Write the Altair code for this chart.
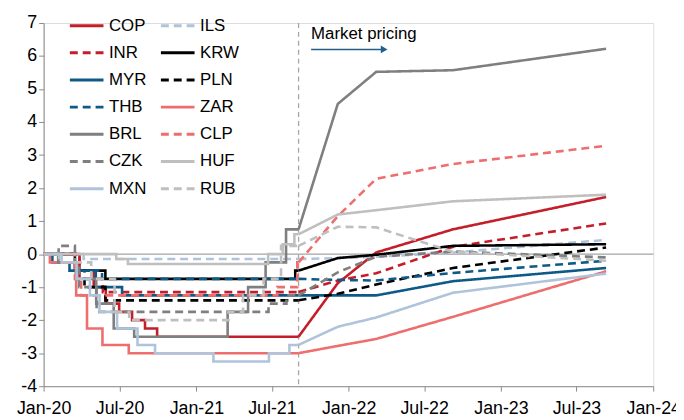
import altair as alt
import pandas as pd

# ---------------- data ----------------
# forward (market pricing) dates; first is the spot date (dashed line)
FWD_DATES = ["2021-09-03", "2021-12-06", "2022-03-08", "2022-09-08", "2023-09-10"]

# cumulative policy-rate change since Jan-20 (pp), step changes
COP_STEPS = [("2020-01-01", 0.0), ("2020-03-27", -0.5), ("2020-04-30", -1.0), ("2020-05-29", -1.5),
             ("2020-06-30", -1.75), ("2020-07-31", -2.0), ("2020-08-31", -2.25), ("2020-09-29", -2.5)]
INR_STEPS = [("2020-01-01", 0.0), ("2020-03-27", -0.75), ("2020-05-22", -1.15)]
MYR_STEPS = [("2020-01-01", 0.0), ("2020-01-22", -0.25), ("2020-03-03", -0.5), ("2020-05-05", -1.0),
             ("2020-07-07", -1.25)]
THB_STEPS = [("2020-01-01", 0.0), ("2020-02-05", -0.25), ("2020-03-20", -0.5), ("2020-05-20", -0.75)]
BRL_STEPS = [("2020-01-01", 0.0), ("2020-02-05", -0.25), ("2020-03-18", -0.75), ("2020-05-06", -1.5),
             ("2020-06-17", -2.25), ("2020-08-05", -2.5), ("2021-03-17", -1.75), ("2021-05-05", -1.0),
             ("2021-06-16", -0.25), ("2021-08-04", 0.75)]
CZK_STEPS = [("2020-01-01", 0.0), ("2020-02-06", 0.25), ("2020-03-16", -0.25), ("2020-03-26", -1.0),
             ("2020-05-07", -1.75), ("2021-06-23", -1.5), ("2021-08-05", -1.25)]
MXN_STEPS = [("2020-01-01", 0.0), ("2020-02-13", -0.25), ("2020-03-20", -0.75), ("2020-04-21", -1.25),
             ("2020-05-14", -1.75), ("2020-06-25", -2.25), ("2020-08-13", -2.75), ("2020-09-24", -3.0),
             ("2021-02-11", -3.25), ("2021-06-24", -3.0), ("2021-08-12", -2.75)]
ILS_STEPS = [("2020-01-01", 0.0), ("2020-04-06", -0.15)]
KRW_STEPS = [("2020-01-01", 0.0), ("2020-03-16", -0.5), ("2020-05-28", -0.75), ("2021-08-26", -0.5)]
PLN_STEPS = [("2020-01-01", 0.0), ("2020-03-17", -0.5), ("2020-04-08", -1.0), ("2020-05-28", -1.4)]
ZAR_STEPS = [("2020-01-01", 0.0), ("2020-01-16", -0.25), ("2020-03-19", -1.25), ("2020-04-14", -2.25),
             ("2020-05-21", -2.75), ("2020-07-23", -3.0)]
CLP_STEPS = [("2020-01-01", 0.0), ("2020-03-16", -0.75), ("2020-03-31", -1.25), ("2021-07-14", -1.0),
             ("2021-08-31", -0.25)]
HUF_STEPS = [("2020-01-01", 0.0), ("2020-06-23", -0.15), ("2020-07-21", -0.3), ("2021-06-22", 0.0),
             ("2021-07-27", 0.3), ("2021-08-24", 0.6)]
RUB_STEPS = [("2020-01-01", 0.0), ("2020-02-07", -0.25), ("2020-04-24", -0.75), ("2020-06-19", -1.75),
             ("2020-07-24", -2.0), ("2021-03-19", -1.75), ("2021-04-23", -1.25), ("2021-06-11", -0.75),
             ("2021-07-23", 0.25)]

# market-implied path at FWD_DATES
COP_FWD = [-2.5, -0.88, 0.05, 0.75, 1.73]
INR_FWD = [-1.15, -0.8, -0.58, 0.22, 0.93]
MYR_FWD = [-1.25, -1.25, -1.25, -0.82, -0.42]
THB_FWD = [-0.75, -0.78, -0.8, -0.57, -0.2]
BRL_FWD = [0.75, 4.55, 5.52, 5.57, 6.22]
CZK_FWD = [-1.25, -0.55, -0.08, 0.08, -0.1]
MXN_FWD = [-2.75, -2.2, -1.92, -1.17, -0.59]
ILS_FWD = [-0.15, -0.12, -0.08, 0.05, 0.43]
KRW_FWD = [-0.5, -0.12, -0.02, 0.25, 0.3]
PLN_FWD = [-1.4, -1.2, -0.92, -0.42, 0.2]
ZAR_FWD = [-3.0, -2.78, -2.57, -1.9, -0.52]
CLP_FWD = [-0.25, 1.15, 2.28, 2.73, 3.28]
HUF_FWD = [0.6, 1.2, 1.33, 1.6, 1.8]
RUB_FWD = [0.25, 0.83, 0.81, 0.07, -0.2]

# legend order (column by column) and drawing order
LEGEND_ORDER = ["COP", "INR", "MYR", "THB", "BRL", "CZK", "MXN",
                "ILS", "KRW", "PLN", "ZAR", "CLP", "HUF", "RUB"]
DRAW_ORDER = ["COP", "ILS", "INR", "KRW", "MYR", "PLN", "THB", "ZAR", "BRL", "CLP", "CZK", "HUF", "MXN", "RUB"]
COLORS = ["#C41E2A", "#C41E2A", "#0E5A87", "#0E5A87", "#7F7F7F", "#7F7F7F", "#AFC3DB",
          "#AFC3DB", "#000000", "#000000", "#EE6E6E", "#EE6E6E", "#BFBFBF", "#BFBFBF"]
DASHED = [False, True, False, True, False, True, False,
          True, False, True, False, True, False, True]

Y_TICKS = [-4, -3, -2, -1, 0, 1, 2, 3, 4, 5, 6, 7]

ANNOT_TEXT = "Market pricing"
ANNOT_DATE = "2021-10-03"
ANNOT_Y = 6.67
ARROW_START = "2021-10-03"
ARROW_END = "2022-03-27"
ARROW_Y = 6.2

# ---------------- build tables ----------------
STEPS = {"COP": COP_STEPS, "INR": INR_STEPS, "MYR": MYR_STEPS, "THB": THB_STEPS, "BRL": BRL_STEPS,
         "CZK": CZK_STEPS, "MXN": MXN_STEPS, "ILS": ILS_STEPS, "KRW": KRW_STEPS, "PLN": PLN_STEPS,
         "ZAR": ZAR_STEPS, "CLP": CLP_STEPS, "HUF": HUF_STEPS, "RUB": RUB_STEPS}
FWD = {"COP": COP_FWD, "INR": INR_FWD, "MYR": MYR_FWD, "THB": THB_FWD, "BRL": BRL_FWD,
       "CZK": CZK_FWD, "MXN": MXN_FWD, "ILS": ILS_FWD, "KRW": KRW_FWD, "PLN": PLN_FWD,
       "ZAR": ZAR_FWD, "CLP": CLP_FWD, "HUF": HUF_FWD, "RUB": RUB_FWD}

hist_rows, fwd_rows = [], []
for i, n in enumerate(DRAW_ORDER):
    for d, v in STEPS[n]:
        hist_rows.append({"name": n, "date": d, "value": v, "k": i})
    hist_rows.append({"name": n, "date": FWD_DATES[0], "value": STEPS[n][-1][1], "k": i})
    for d, v in zip(FWD_DATES, FWD[n]):
        fwd_rows.append({"name": n, "date": d, "value": v, "k": i})

hist = pd.DataFrame(hist_rows)
hist["date"] = pd.to_datetime(hist["date"])
fwd = pd.DataFrame(fwd_rows)
fwd["date"] = pd.to_datetime(fwd["date"])

FONT = "Liberation Sans"
W, H = 616, 367

legend = alt.Legend(title=None, orient="none", legendX=25, legendY=-16, columns=2,
                    symbolType="stroke", symbolSize=1156, symbolStrokeWidth=3,
                    labelFontSize=17, labelFont=FONT, labelColor="#000000", labelOffset=4,
                    rowPadding=0.5, columnPadding=8, labelLimit=0)

color = alt.Color("name:N", scale=alt.Scale(domain=LEGEND_ORDER, range=COLORS), legend=legend)
dash = alt.StrokeDash("name:N", scale=alt.Scale(domain=LEGEND_ORDER,
                      range=[[8, 5] if d else [1, 0] for d in DASHED]), legend=legend)

xaxis = alt.Axis(format="%b-%y", tickCount={"interval": "month", "step": 6},
                 labelFontSize=18, labelFont=FONT, labelColor="#000000",
                 domainColor="#8c8c8c", tickColor="#8c8c8c", tickSize=5,
                 labelPadding=9, grid=False, title=None, labelFlush=False, labelOverlap=False)
yaxis = alt.Axis(values=Y_TICKS, labelExpr="'' + datum.value",
                 labelFontSize=18, labelFont=FONT, labelColor="#000000",
                 domainColor="#8c8c8c", tickColor="#8c8c8c", tickSize=5,
                 labelPadding=2, grid=False, title=None, labelOverlap=False)
xscale = alt.Scale(domain=[alt.DateTime(year=2020, month=1, date=1),
                           alt.DateTime(year=2024, month=1, date=1)])
yscale = alt.Scale(domain=[-4, 7], nice=False, zero=False)

xenc = alt.X("date:T", scale=xscale, axis=xaxis)
yenc = alt.Y("value:Q", scale=yscale, axis=yaxis)

zero = alt.Chart(pd.DataFrame({"value": [0]})).mark_rule(color="#8c8c8c", strokeWidth=1).encode(y=yenc)
vline = alt.Chart(pd.DataFrame({"date": pd.to_datetime([FWD_DATES[0]])})).mark_rule(
    color="#a6a6a6", strokeWidth=1.3, strokeDash=[5, 4]).encode(x=xenc)

hist_lines = alt.Chart(hist).mark_line(interpolate="step-after", strokeWidth=2.6).encode(
    x=xenc, y=yenc, color=color, strokeDash=dash, order="date:T")
fwd_lines = alt.Chart(fwd).mark_line(strokeWidth=2.6).encode(
    x=xenc, y=yenc, color=color, strokeDash=dash, order="date:T")

annot = alt.Chart(pd.DataFrame({"date": pd.to_datetime([ANNOT_DATE]), "value": [ANNOT_Y],
                                "t": [ANNOT_TEXT]})).mark_text(
    align="left", baseline="middle", fontSize=17, font=FONT, color="#000000").encode(
    x=xenc, y=yenc, text="t:N")
arrow = alt.Chart(pd.DataFrame({"date": pd.to_datetime([ARROW_START]), "date2": pd.to_datetime([ARROW_END]),
                                "value": [ARROW_Y]})).mark_rule(color="#1F5F8A", strokeWidth=1.5).encode(
    x=xenc, x2="date2:T", y=yenc)
head = alt.Chart(pd.DataFrame({"date": pd.to_datetime([ARROW_END]), "value": [ARROW_Y]})).mark_point(
    shape="triangle-right", filled=True, size=60, color="#1F5F8A", opacity=1).encode(x=xenc, y=yenc)

chart = alt.layer(zero, vline, hist_lines, fwd_lines, annot, arrow, head).properties(
    width=W, height=H,
    autosize=alt.AutoSizeParams(type="none"),
    padding={"left": 36, "top": 13, "right": 23, "bottom": 32},
).configure_view(stroke=None).configure(font=FONT)

chart.save("out.html", embed_options={"renderer": "svg", "actions": False})
